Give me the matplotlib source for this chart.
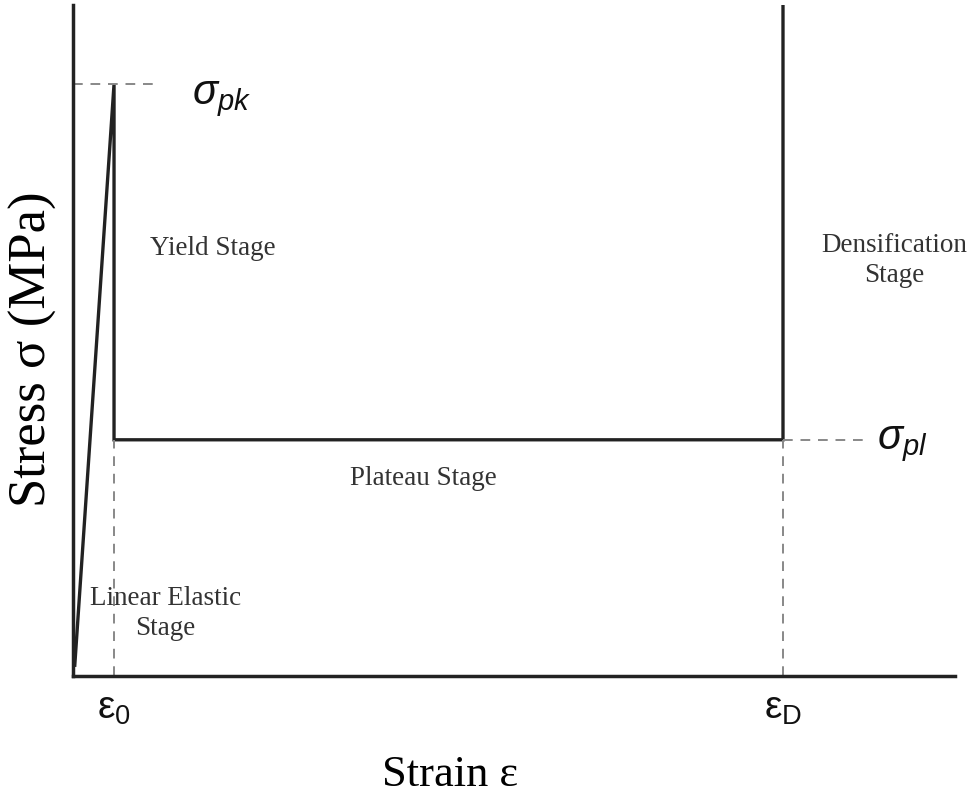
# Stress-strain schematic of a foam (elastic, yield, plateau, densification)
import matplotlib.pyplot as plt

plt.rcParams['mathtext.fontset'] = 'custom'
plt.rcParams['mathtext.rm'] = 'Liberation Sans'
plt.rcParams['mathtext.it'] = 'Liberation Sans:italic'

# Key points of the curve (normalised strain / stress)
eps_start = 0.002
eps_0 = 0.0465
eps_D = 0.805
sig_start = 0.016
sig_pk = 0.882
sig_pl = 0.352
sig_top = 1.0

strain = [eps_start, eps_0, eps_0, eps_D, eps_D]
stress = [sig_start, sig_pk, sig_pl, sig_pl, sig_top]

stage_labels = ['Yield Stage', 'Plateau Stage', 'Linear Elastic\nStage', 'Densification\nStage']
stage_x = [0.158, 0.397, 0.105, 0.931]
stage_y = [0.637, 0.295, 0.093, 0.619]

fig = plt.figure(figsize=(9.71, 7.99), dpi=100)
ax = fig.add_axes([0.0752, 0.154, 0.9083, 0.8397])

ax.plot(strain, stress, color='#222222', lw=2.4, solid_joinstyle='miter')

# dashed guide lines
dash = dict(color='#888888', lw=1.4, ls=(0, (5, 4)))
ax.plot([0, 0.099], [sig_pk, sig_pk], **dash)
ax.plot([eps_D, 0.904], [sig_pl, sig_pl], **dash)
ax.plot([eps_0, eps_0], [0, sig_pl], **dash)
ax.plot([eps_D, eps_D], [0, sig_pl], **dash)

ax.set_xlim(0, 1)
ax.set_ylim(0, 1)
ax.set_xticks([])
ax.set_yticks([])
for s in ['top', 'right']:
    ax.spines[s].set_visible(False)
for s in ['left', 'bottom']:
    ax.spines[s].set_linewidth(2.5)
    ax.spines[s].set_color('#222222')

serif = 'Liberation Serif'
for lab, x, y in zip(stage_labels, stage_x, stage_y):
    ax.text(x, y, lab, fontsize=19.5, family=serif, color='#333333',
            ha='center', va='center', linespacing=1.25)

ax.text(0.135, sig_pk - 0.02, r'$\sigma_{pk}$', fontsize=30, ha='left', va='center', color='#111111')
ax.text(0.912, sig_pl - 0.005, r'$\sigma_{pl}$', fontsize=30, ha='left', va='center', color='#111111')

ax.text(eps_0, -0.02, r'$\mathrm{\varepsilon_0}$', fontsize=28, ha='center', va='top',
        color='#111111', clip_on=False)
ax.text(eps_D, -0.02, r'$\mathrm{\varepsilon_D}$', fontsize=28, ha='center', va='top',
        color='#111111', clip_on=False)

fig.text(0.463, 0.03, 'Strain ε', fontsize=32, family=serif, ha='center', va='center')
fig.text(0.034, 0.563, 'Stress σ (MPa)', fontsize=38, family=serif, rotation=90,
         ha='center', va='center')

fig.savefig('out.png', dpi=100)
